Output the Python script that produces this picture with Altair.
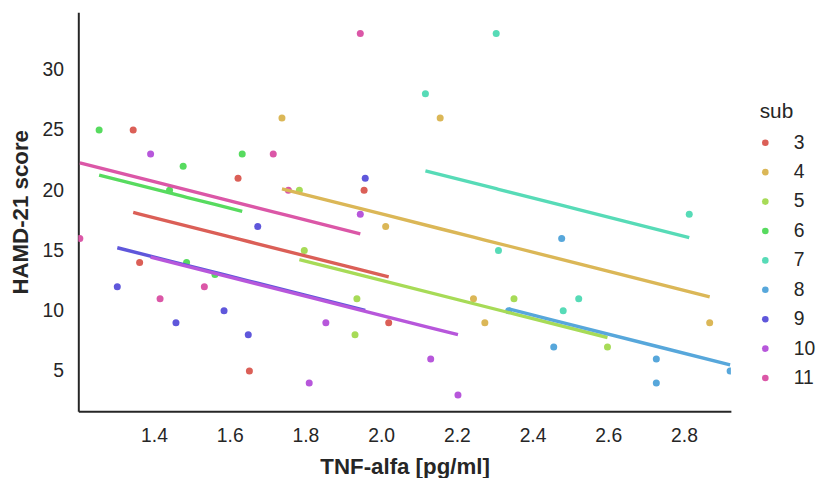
import altair as alt
import pandas as pd

subjects = [3, 4, 5, 6, 7, 8, 9, 10, 11]
colors = ["#db5f57", "#dbb757", "#a7db57", "#57db5f", "#57dbb7",
          "#57a7db", "#5f57db", "#b757db", "#db57a7"]

tnf_3 = [1.345, 1.362, 1.622, 1.652, 1.955, 2.020]
hamd_3 = [25, 14, 21, 5, 20, 9]
tnf_4 = [1.738, 2.012, 2.156, 2.244, 2.274, 2.868]
hamd_4 = [26, 17, 26, 11, 9, 9]
tnf_5 = [1.784, 1.797, 1.931, 1.936, 2.351, 2.598]
hamd_5 = [20, 15, 8, 11, 11, 7]
tnf_6 = [1.255, 1.441, 1.477, 1.486, 1.561, 1.633]
hamd_6 = [25, 20, 22, 14, 13, 23]
tnf_7 = [2.117, 2.304, 2.310, 2.481, 2.522, 2.814]
hamd_7 = [28, 33, 15, 10, 11, 18]
tnf_8 = [2.337, 2.456, 2.477, 2.727, 2.727, 2.922]
hamd_8 = [10, 7, 16, 6, 4, 5]
tnf_9 = [1.303, 1.458, 1.585, 1.649, 1.674, 1.958]
hamd_9 = [12, 9, 10, 8, 17, 21]
tnf_10 = [1.391, 1.810, 1.854, 1.945, 2.131, 2.203]
hamd_10 = [23, 4, 9, 18, 6, 3]
tnf_11 = [1.204, 1.416, 1.533, 1.715, 1.755, 1.945]
hamd_11 = [16, 11, 12, 23, 20, 33]

x_ticks = [1.4, 1.6, 1.8, 2.0, 2.2, 2.4, 2.6, 2.8]
y_ticks = [5, 10, 15, 20, 25, 30]
legend_title = ["sub"]

series = {
    3: (tnf_3, hamd_3), 4: (tnf_4, hamd_4), 5: (tnf_5, hamd_5),
    6: (tnf_6, hamd_6), 7: (tnf_7, hamd_7), 8: (tnf_8, hamd_8),
    9: (tnf_9, hamd_9), 10: (tnf_10, hamd_10), 11: (tnf_11, hamd_11),
}
rows = []
for s, (xs, ys) in series.items():
    for xv, yv in zip(xs, ys):
        rows.append({"sub": s, "tnf": xv, "hamd": yv})
df = pd.DataFrame(rows)

FONT = "Liberation Sans"
TXT = "#262626"

x_enc = alt.X("tnf:Q", title="TNF-alfa [pg/ml]",
              scale=alt.Scale(domain=[1.2, 2.924], nice=False, zero=False),
              axis=alt.Axis(values=x_ticks, format=".1f"))
y_enc = alt.Y("hamd:Q", title="HAMD-21 score",
              scale=alt.Scale(domain=[1.65, 34.77], nice=False, zero=False),
              axis=alt.Axis(values=y_ticks))
color_enc = alt.Color("sub:O", title=None,
                      scale=alt.Scale(domain=subjects, range=colors),
                      legend=alt.Legend(orient="none", legendX=684, legendY=122,
                                        symbolType="circle", symbolSize=45,
                                        symbolStrokeWidth=0,
                                        labelFontSize=19.5, labelFont=FONT,
                                        labelColor=TXT, labelOffset=19,
                                        rowPadding=8.7, padding=0))

points = alt.Chart(df).mark_circle(size=50, opacity=1, clip=True).encode(
    x=x_enc, y=y_enc, color=color_enc
)

# per-subject intercepts with a common (pooled within-subject) slope
lines = alt.Chart(df).transform_joinaggregate(
    mx="mean(tnf)", my="mean(hamd)", groupby=["sub"]
).transform_calculate(
    dxy="(datum.tnf - datum.mx) * (datum.hamd - datum.my)",
    dxx="(datum.tnf - datum.mx) * (datum.tnf - datum.mx)",
).transform_joinaggregate(
    sxy="sum(dxy)", sxx="sum(dxx)"
).transform_calculate(
    fit="datum.my + datum.sxy / datum.sxx * (datum.tnf - datum.mx)"
).mark_line(strokeWidth=3.4, clip=True).encode(
    x=alt.X("tnf:Q"), y=alt.Y("fit:Q"),
    color=alt.Color("sub:O", scale=alt.Scale(domain=subjects, range=colors), legend=None),
    order=alt.Order("tnf:Q"),
)

title_text = alt.Chart(pd.DataFrame({"t": legend_title})).mark_text(
    font=FONT, fontSize=21, color=TXT, align="center", baseline="middle"
).encode(text="t:N", x=alt.value(705), y=alt.value(101))

chart = alt.layer(points, lines, title_text).properties(
    width=659, height=403,
    autosize=alt.AutoSizeParams(type="none"),
    padding={"left": 71, "top": 2, "right": 91, "bottom": 65},
).configure_view(stroke=None).configure_axis(
    grid=False, ticks=False, domainColor=TXT, domainWidth=2,
    labelFont=FONT, labelFontSize=19.5, labelColor=TXT, labelPadding=15,
    titleFont=FONT, titleFontSize=22.5, titleFontWeight="bold", titleColor=TXT,
).configure_axisX(titlePadding=11).configure_axisY(titlePadding=10)

chart.save("out.html", embed_options={"renderer": "svg", "actions": False})
